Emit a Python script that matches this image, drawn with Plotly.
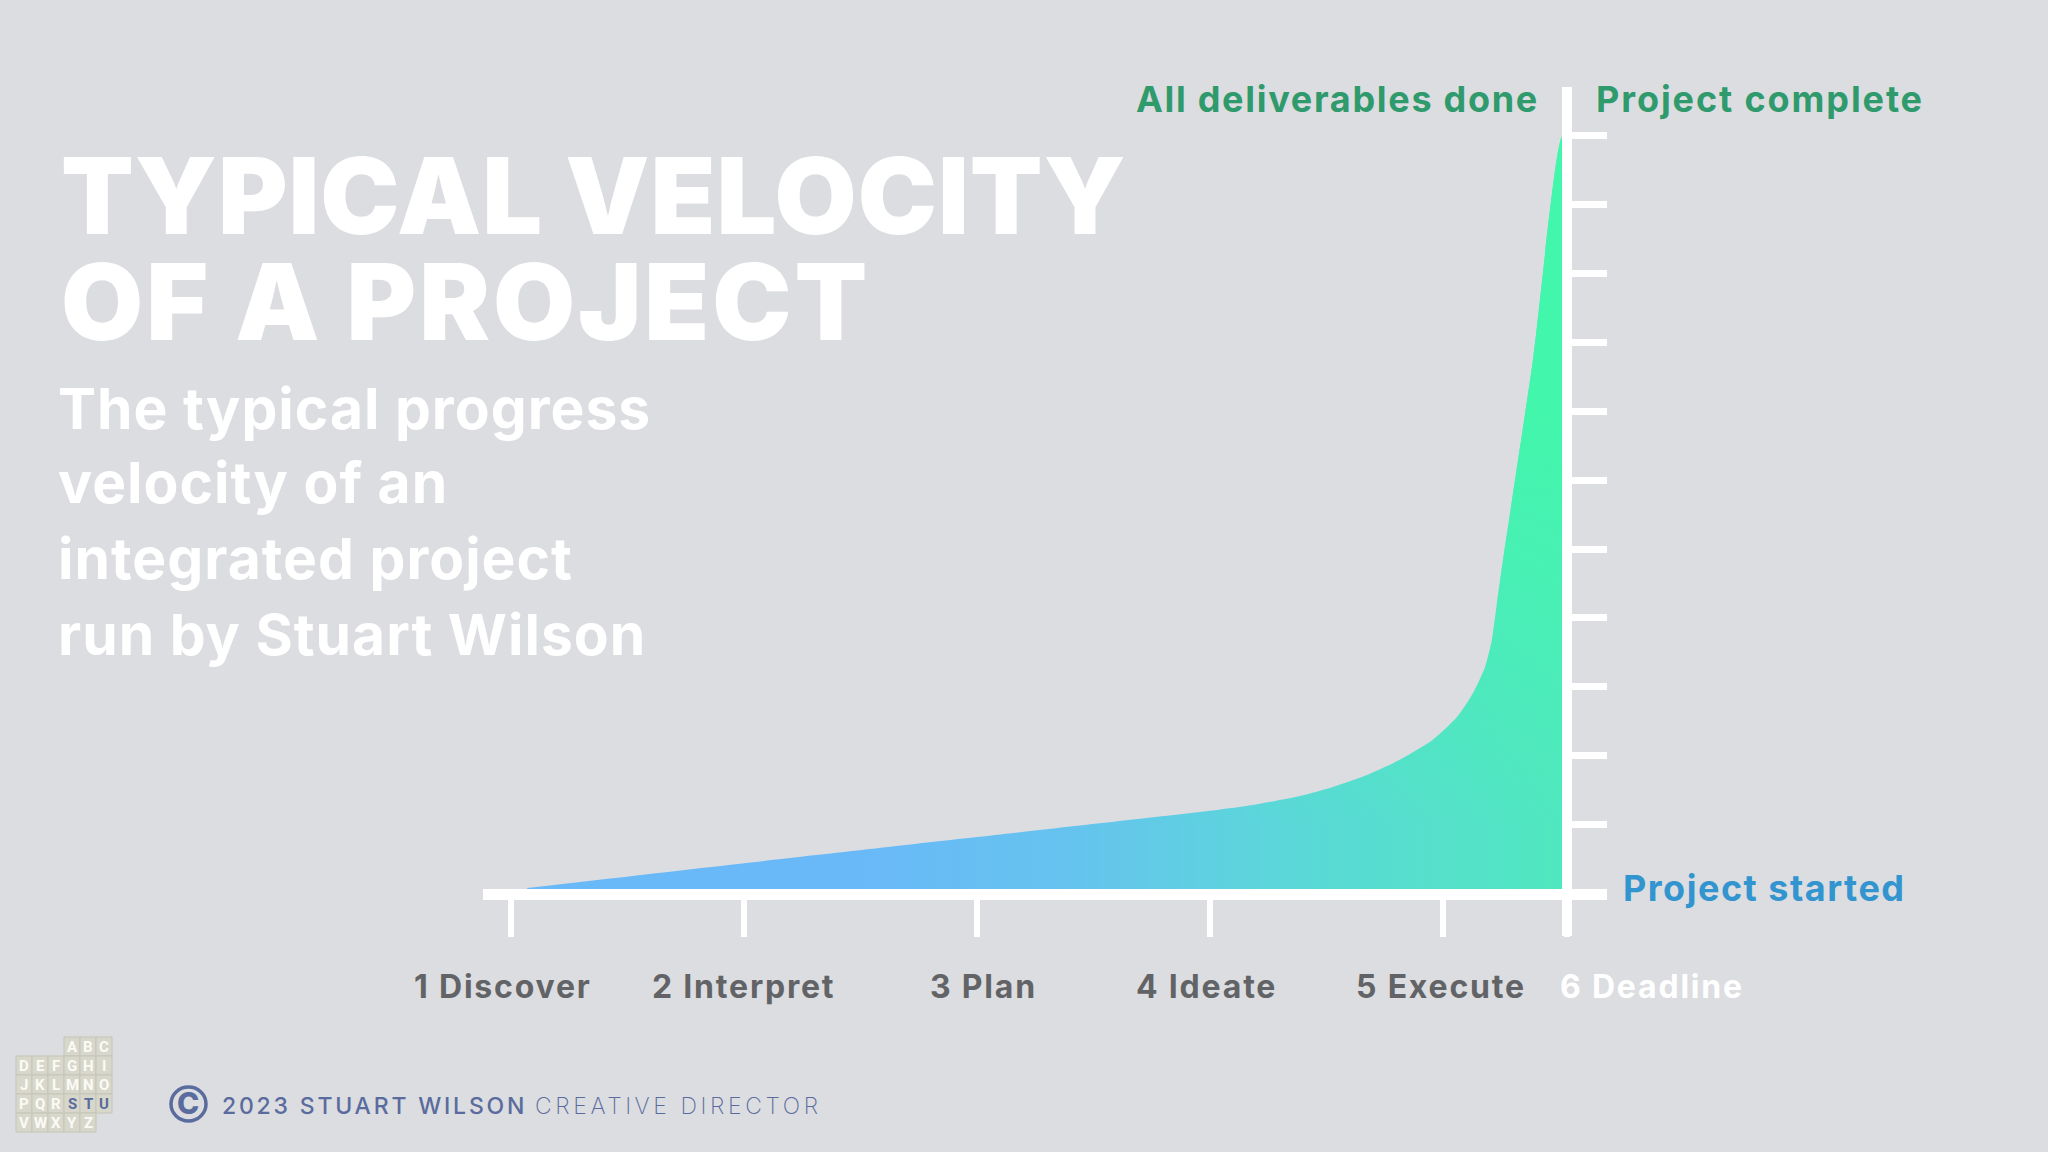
import plotly.graph_objects as go

# ---- data ----
stage_labels = ["1 Discover", "2 Interpret", "3 Plan", "4 Ideate", "5 Execute", "6 Deadline"]
stage_ticks = [1, 2, 3, 4, 5, 5.532]
progress_ticks = list(range(12))
curve_x = [1.07, 2.00, 3.00, 4.00, 4.21, 4.386, 4.528, 4.674, 4.815, 4.957, 5.06, 5.129, 5.18, 5.21, 5.232, 5.258, 5.386, 5.51, 5.532]
curve_y = [0.08, 0.44, 0.82, 1.20, 1.30, 1.415, 1.546, 1.72, 1.94, 2.23, 2.56, 2.91, 3.28, 3.68, 4.22, 4.85, 7.74, 10.98, 11.0]
title_lines = ["TYPICAL VELOCITY", "OF A PROJECT"]
sub_lines = ["The typical progress", "velocity of an", "integrated project", "run by Stuart Wilson"]
logo_rows = [("ABC", 3), ("DEFGHI", 0), ("JKLMNO", 0), ("PQRSTU", 0), ("VWXYZ", 0)]
logo_highlight = "STU"

W, H = 2048, 1152
BG = "#dcdde0"
FONT = "Inter"
BLUE = "#5a6b9e"

def px(x): return x / W
def py(y): return 1 - y / H

# plot rectangle in pixels: left 483, right 1607, top 87, bottom 936
x0 = 1 - 28 / 233
x1 = 1 + 1096 / 233
y_bottom = -(936 - 893.5) / 68.9
y_top = (893.5 - 87) / 68.9

fig = go.Figure()
fig.add_trace(go.Scatter(
    x=curve_x, y=curve_y, mode="lines", fill="tozeroy",
    line=dict(width=0, shape="spline", smoothing=0.6),
    fillgradient=dict(type="horizontal", start=2.5, stop=5.53,
                      colorscale=[[0, "#69b9f8"], [0.3, "#65c3ee"], [0.6, "#5bd7d9"], [1, "#50e8bf"]]),
    hoverinfo="skip", showlegend=False))
fig.add_trace(go.Scatter(
    x=curve_x, y=curve_y, mode="lines", fill="tozeroy",
    line=dict(width=0, shape="spline", smoothing=0.6),
    fillgradient=dict(type="vertical", start=1, stop=7,
                      colorscale=[[0, "rgba(66,246,171,0)"], [1, "rgba(66,246,171,1)"]]),
    hoverinfo="skip", showlegend=False))

ann = []
def text(x, y, s, size, color, weight=700, spacing=0, anchor="left", family=FONT):
    ann.append(dict(xref="paper", yref="paper", x=px(x), y=py(y), xanchor=anchor, yanchor="middle",
                    showarrow=False, borderpad=0, borderwidth=0,
                    text=f'<span style="letter-spacing:{spacing}px">{s}</span>',
                    font=dict(family=family, size=size, color=color, weight=weight)))

for s, y, sp in zip(title_lines, [195, 301], [1.0, 3.0]):
    text(61, y, s, 106, "#ffffff", 900, sp)
for s, y in zip(sub_lines, [408, 483, 558, 634]):
    text(58, y, s, 57, "#ffffff", 700, 1.0)
text(1136, 99, "All deliverables done", 36, "#2f9a6c", 700, 1.7)
text(1596, 99, "Project complete", 36, "#2f9a6c", 700, 1.9)
text(1623, 888, "Project started", 36, "#3295cf", 700, 1.5)

label_centers = [503, 743, 983, 1206, 1441, 1652]
for s, c in zip(stage_labels, label_centers):
    color = "#ffffff" if s.startswith("6") else "#626366"
    text(c, 986, s, 32, color, 700, 1.8, anchor="center")

# footer
text(222, 1106, "2023 STUART WILSON", 23, BLUE, 500, 2.8)
text(535, 1106, "CREATIVE DIRECTOR", 23, BLUE, 200, 3.6)
text(188, 1103, "C", 30, BLUE, 800, 0, anchor="center")

shapes = [dict(type="circle", xref="paper", yref="paper", x0=px(171), x1=px(206), y0=py(1087), y1=py(1121),
               line=dict(color=BLUE, width=3.5), fillcolor="rgba(0,0,0,0)")]
cell_w, cell_h = 16, 19
for r, (letters, start) in enumerate(logo_rows):
    for i, ch in enumerate(letters):
        cx = 16 + (start + i) * cell_w
        cy = 1037 + r * cell_h
        shapes.append(dict(type="rect", xref="paper", yref="paper", x0=px(cx), x1=px(cx + cell_w),
                           y0=py(cy), y1=py(cy + cell_h), fillcolor="#d8d7cb",
                           line=dict(color="#c6c5b8", width=1)))
        text(cx + cell_w / 2, cy + cell_h / 2, ch, 15, BLUE if ch in logo_highlight else "#fbfbf5", 700, 0,
             anchor="center", family="Roboto")

fig.update_layout(
    width=W, height=H, autosize=False,
    margin=dict(l=0, r=0, t=0, b=0),
    paper_bgcolor=BG, plot_bgcolor=BG,
    showlegend=False, annotations=ann, shapes=shapes,
    xaxis=dict(domain=[px(483), px(1607)], range=[x0, x1], anchor="free", position=py(893.5),
               showgrid=False, zeroline=False, showline=True, linecolor="#ffffff", linewidth=11,
               tickmode="array", tickvals=stage_ticks, ticks="outside", ticklen=37, tickwidth=6,
               tickcolor="#ffffff", showticklabels=False, automargin=False),
    yaxis=dict(domain=[py(936), py(87)], range=[y_bottom, y_top], anchor="free", position=px(1567), side="right",
               showgrid=False, zeroline=False, showline=True, linecolor="#ffffff", linewidth=10,
               tickmode="array", tickvals=progress_ticks, ticks="outside", ticklen=35, tickwidth=7,
               tickcolor="#ffffff", showticklabels=False, automargin=False),
)
fig.write_html("out.html", config=dict(displayModeBar=False), post_script="document.body.style.margin='0';")
